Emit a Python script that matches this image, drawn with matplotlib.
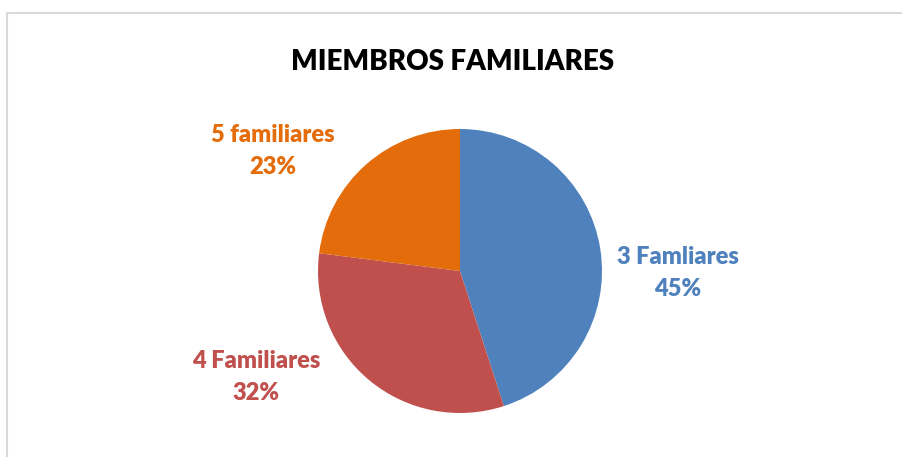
import matplotlib.pyplot as plt
from matplotlib.patches import Rectangle

plt.rcParams['font.family'] = ['Lato', 'DejaVu Sans']

categories = ["3 Famliares", "4 Familiares", "5 familiares"]
shares = [45, 32, 23]
colors = ["#4F81BD", "#C0504D", "#E46C0A"]
title = "MIEMBROS FAMILIARES"

W, H = 902, 457
fig = plt.figure(figsize=(W / 100, H / 100), dpi=100)
ax = fig.add_axes([0, 0, 1, 1])

# chart frame
fig.patches.append(Rectangle((7 / W, -0.1), 1.0, (H - 13) / H + 0.1,
                             transform=fig.transFigure, fill=False,
                             edgecolor="#D9D9D9", linewidth=1.5))

ax.pie(shares, colors=colors, startangle=90, counterclock=False,
       center=(460, H - 271), radius=142,
       wedgeprops=dict(linewidth=0))
ax.set_xlim(0, W)
ax.set_ylim(0, H)
ax.set_aspect('equal')
ax.axis('off')

# label positions (pixels from top-left), one per slice
label_pos = [(678, 273), (256, 377), (273, 151)]
for name, val, col, (lx, ly) in zip(categories, shares, colors, label_pos):
    ax.text(lx, H - ly, f"{name}\n{val}%", color=col, fontsize=17,
            fontweight='heavy', ha='center', va='center', linespacing=1.5)

ax.text(453, H - 62, title, fontsize=20, fontweight='heavy',
        ha='center', va='center', color='black')

fig.savefig("out.png", dpi=100)
